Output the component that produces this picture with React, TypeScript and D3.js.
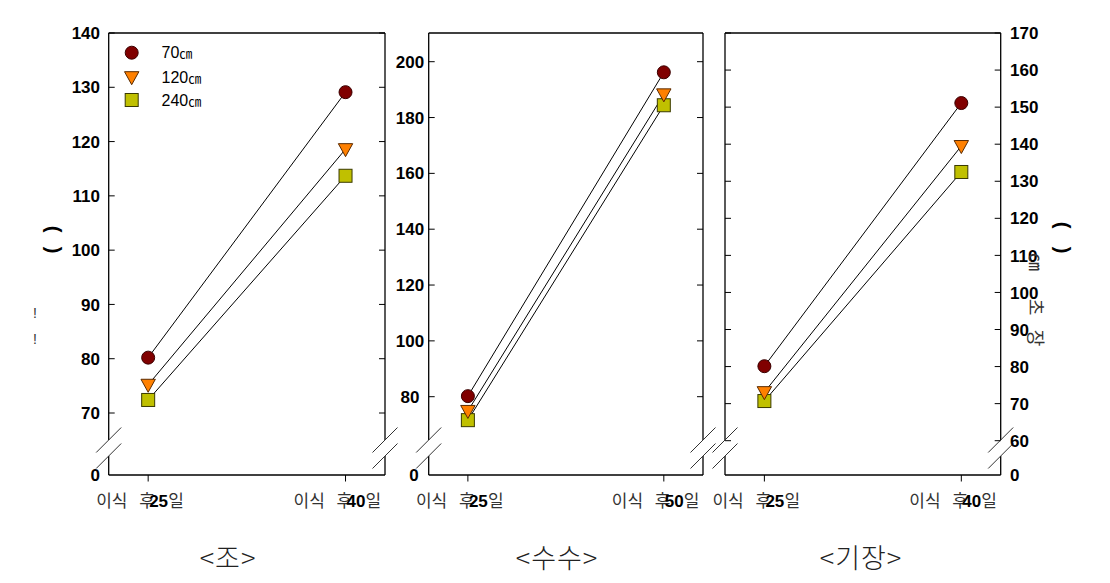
import React from "react";
import * as d3 from "d3";

// ---- data ----
const panelNames = ["<조>", "<수수>", "<기장>"];
const seriesNames = ["70", "120", "240"];
const seriesUnit = "㎝";
const days1 = ["25", "40"];
const days2 = ["25", "50"];
const days3 = ["25", "40"];
const jo70 = [80.2, 129.1];
const jo120 = [75.2, 118.6];
const jo240 = [72.4, 113.7];
const susu70 = [80.2, 196.2];
const susu120 = [74.9, 188.3];
const susu240 = [71.6, 184.4];
const gijang70 = [80.1, 151.1];
const gijang120 = [73.1, 139.5];
const gijang240 = [70.7, 132.5];
const ticks1 = [70, 80, 90, 100, 110, 120, 130, 140];
const ticks2 = [80, 100, 120, 140, 160, 180, 200];
const ticks3 = [60, 70, 80, 90, 100, 110, 120, 130, 140, 150, 160, 170];

const colors = ["#800000", "#FF8000", "#C0C000"];
const strokes = ["#3a0000", "#5a2a00", "#3a3a00"];

const TOP = 33;
const BOTTOM = 475;
const BREAK1 = 440;
const BREAK2 = 456;

type PanelCfg = {
  x0: number;
  x1: number;
  days: string[];
  series: number[][];
  ticks: number[];
  domain: [number, number];
  range: [number, number];
  labelSide: "left-end" | "left-mid" | "right";
  labelX: number;
  title: string;
  titleX: number;
};

const panels: PanelCfg[] = [
  {
    x0: 108.7, x1: 385, days: days1, series: [jo70, jo120, jo240], ticks: ticks1,
    domain: [70, 140], range: [413, 33], labelSide: "left-end", labelX: 100,
    title: panelNames[0], titleX: 228,
  },
  {
    x0: 428.7, x1: 703, days: days2, series: [susu70, susu120, susu240], ticks: ticks2,
    domain: [80, 200], range: [396.7, 61.7], labelSide: "left-mid", labelX: 410,
    title: panelNames[1], titleX: 557,
  },
  {
    x0: 725, x1: 1000.7, days: days3, series: [gijang70, gijang120, gijang240], ticks: ticks3,
    domain: [60, 170], range: [440.7, 33], labelSide: "right", labelX: 1010,
    title: panelNames[2], titleX: 861,
  },
];

const korFont = "'Noto Sans CJK KR', sans-serif";
const numFont = "'Liberation Sans', Arial, sans-serif";

function Marker({ i, cx, cy }: { i: number; cx: number; cy: number }) {
  if (i === 0) {
    return <circle cx={cx} cy={cy} r={6.5} fill={colors[0]} stroke={strokes[0]} strokeWidth={1} />;
  }
  if (i === 1) {
    const w = 7.2, h = 6.5;
    const p = `M${cx - w},${cy - h + 1}L${cx + w},${cy - h + 1}L${cx},${cy + h + 1}Z`;
    return <path d={p} fill={colors[1]} stroke={strokes[1]} strokeWidth={1} />;
  }
  return <rect x={cx - 6.5} y={cy - 6.5} width={13} height={13} fill={colors[2]} stroke={strokes[2]} strokeWidth={1} />;
}

function BreakMarks({ x }: { x: number }) {
  return (
    <g stroke="#333" strokeWidth={1}>
      {[BREAK1, BREAK2].map((y, k) => (
        <line key={k} x1={x - 12.5} y1={y + 12.5} x2={x + 12.5} y2={y - 12.5} />
      ))}
    </g>
  );
}

function Panel({ cfg }: { cfg: PanelCfg }) {
  const xs = d3.scalePoint<string>().domain(cfg.days).range([cfg.x0, cfg.x1]).padding(0.2);
  const ys = d3.scaleLinear().domain(cfg.domain).range(cfg.range);
  const line = d3
    .line<[string, number]>()
    .x((d) => xs(d[0]) as number)
    .y((d) => ys(d[1]));

  const labelAnchor = cfg.labelSide === "left-end" ? "end" : cfg.labelSide === "left-mid" ? "middle" : "start";

  return (
    <g>
      {/* frame */}
      <g stroke="#000" strokeWidth={1.3} fill="none">
        <line x1={cfg.x0} y1={TOP} x2={cfg.x1} y2={TOP} />
        <line x1={cfg.x0} y1={BOTTOM} x2={cfg.x1} y2={BOTTOM} />
        <line x1={cfg.x0} y1={TOP} x2={cfg.x0} y2={BREAK1} />
        <line x1={cfg.x0} y1={BREAK2} x2={cfg.x0} y2={BOTTOM} />
        <line x1={cfg.x1} y1={TOP} x2={cfg.x1} y2={BREAK1} />
        <line x1={cfg.x1} y1={BREAK2} x2={cfg.x1} y2={BOTTOM} />
      </g>
      <BreakMarks x={cfg.x0} />
      <BreakMarks x={cfg.x1} />
      {/* y ticks both sides, inward */}
      <g stroke="#000" strokeWidth={1}>
        {cfg.ticks.map((t) => (
          <g key={t}>
            <line x1={cfg.x0} x2={cfg.x0 + 6} y1={ys(t)} y2={ys(t)} />
            <line x1={cfg.x1} x2={cfg.x1 - 6} y1={ys(t)} y2={ys(t)} />
          </g>
        ))}
      </g>
      {/* y tick labels */}
      <g fontFamily={numFont} fontWeight="bold" fontSize={17} fill="#000" textAnchor={labelAnchor}>
        {cfg.ticks.map((t) => (
          <text key={t} x={cfg.labelX} y={ys(t)} dy="0.36em">
            {t}
          </text>
        ))}
        <text x={cfg.labelSide === "left-mid" ? cfg.labelX + 4 : cfg.labelX} y={BOTTOM} dy="0.36em">
          0
        </text>
      </g>
      {/* x ticks, outward */}
      <g stroke="#000" strokeWidth={1}>
        {cfg.days.map((d) => (
          <line key={d} x1={xs(d)} x2={xs(d)} y1={BOTTOM} y2={BOTTOM + 6.5} />
        ))}
      </g>
      {/* x labels */}
      {cfg.days.map((d) => {
        const x = xs(d) as number;
        return (
          <g key={d}>
            <text x={x - 52} y={507} fontFamily={korFont} fontSize={17} fill="#333">
              이식
            </text>
            <text x={x - 9} y={507} fontFamily={korFont} fontSize={17} fill="#333">
              후
            </text>
            <text x={x + 1} y={507} fontFamily={numFont} fontWeight="bold" fontSize={17} fill="#000">
              {d}
            </text>
            <text x={x + 20} y={507} fontFamily={korFont} fontSize={17} fill="#333">
              일
            </text>
          </g>
        );
      })}
      {/* lines */}
      <g stroke="#000" strokeWidth={1} fill="none">
        {cfg.series.map((s, i) => (
          <path key={i} d={line(cfg.days.map((d, k) => [d, s[k]] as [string, number])) || ""} />
        ))}
      </g>
      {/* markers: draw in order 240, 120, 70 so circle is top */}
      {[2, 1, 0].map((i) =>
        cfg.days.map((d, k) => (
          <Marker key={`${i}-${k}`} i={i} cx={xs(d) as number} cy={ys(cfg.series[i][k])} />
        ))
      )}
      {/* panel title */}
      <text x={cfg.titleX} y={568} textAnchor="middle" fontFamily={korFont} fontSize={27} fontWeight={300} fill="#222" letterSpacing={1}>
        {cfg.title}
      </text>
    </g>
  );
}

function Legend() {
  const rows = [52.7, 77.2, 100];
  return (
    <g>
      {seriesNames.map((n, i) => (
        <g key={n}>
          <Marker i={i} cx={131.7} cy={rows[i]} />
          <text x={161.5} y={rows[i]} dy="0.36em" fontFamily={numFont} fontSize={16} fill="#000">
            {n}
            <tspan fontFamily={korFont} fontSize={13}>
              {seriesUnit}
            </tspan>
          </text>
        </g>
      ))}
    </g>
  );
}

export default function App() {
  return (
    <svg
      width={1110}
      height={583}
      style={{ position: "absolute", left: 0, top: 0, background: "#fff" }}
    >
      <rect width={1110} height={583} fill="#fff" />
      {panels.map((p, i) => (
        <Panel key={i} cfg={p} />
      ))}
      <Legend />
      {/* left axis title remnants */}
      <g fontFamily={numFont} fontWeight="bold" fontSize={20} fill="#000">
        <text transform="translate(53,229) rotate(90)" textAnchor="middle" dy="0.32em">(</text>
        <text transform="translate(53,250) rotate(90)" textAnchor="middle" dy="0.32em">)</text>
      </g>
      <g fontFamily={numFont} fontSize={14} fill="#333">
        <text x={35} y={318} textAnchor="middle">!</text>
        <text x={35} y={344} textAnchor="middle">!</text>
      </g>
      {/* right axis title */}
      <g fontFamily={numFont} fontWeight="bold" fontSize={20} fill="#000">
        <text transform="translate(1062,225) rotate(90)" textAnchor="middle" dy="0.32em">(</text>
        <text transform="translate(1062,250) rotate(90)" textAnchor="middle" dy="0.32em">)</text>
      </g>
      <g fontFamily={korFont} fontSize={18} fill="#333">
        <text transform="translate(1035,262) rotate(90)" textAnchor="middle" dy="0.35em">{seriesUnit}</text>
        <text transform="translate(1035,307) rotate(90)" textAnchor="middle" dy="0.35em">초</text>
        <text transform="translate(1035,338) rotate(90)" textAnchor="middle" dy="0.35em">장</text>
      </g>
    </svg>
  );
}
